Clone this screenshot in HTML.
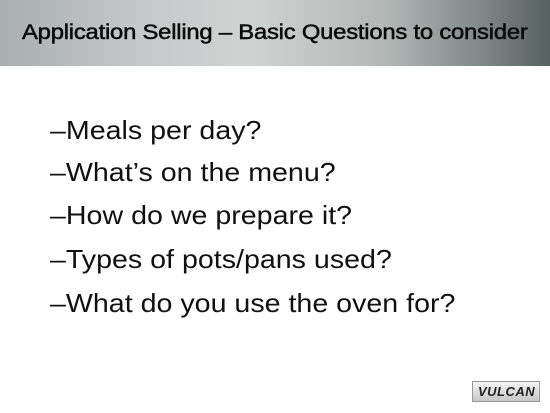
<!DOCTYPE html>
<html><head><meta charset="utf-8"><style>
html,body{margin:0;padding:0}
body{width:550px;height:413px;position:relative;background:#fff;overflow:hidden;font-family:"Liberation Sans",sans-serif}
#hdr{position:absolute;left:0;top:0;width:550px;height:66px;background:linear-gradient(90deg,#a9aeae 0%,#c4c8c8 25%,#cfd3d2 45%,#b3b8b7 70%,#7d8785 88%,#56625f 100%)}
#title{position:absolute;left:22px;top:21px;font-size:21px;color:#0a0a0a;white-space:nowrap;letter-spacing:-0.2px;-webkit-text-stroke:0.5px #0a0a0a;transform:scaleX(1.135);transform-origin:left center}
.b{position:absolute;left:50px;font-size:26px;color:#111;white-space:nowrap;transform:scaleX(1.1);transform-origin:left center}
#logo{position:absolute;left:472px;top:381px;width:68px;height:21px;border:1px solid #999;background:linear-gradient(#f4f4f4,#c8c8c8);box-sizing:border-box}
#logo span{position:absolute;left:5px;top:2px;font-size:13px;font-weight:bold;font-style:italic;color:#222;letter-spacing:0.5px}
</style></head><body>
<div id="hdr"></div>
<div id="title">Application Selling – Basic Questions to consider</div>
<div class="b" style="top:115px">–Meals per day?</div>
<div class="b" style="top:157px">–What’s on the menu?</div>
<div class="b" style="top:200px">–How do we prepare it?</div>
<div class="b" style="top:244px">–Types of pots/pans used?</div>
<div class="b" style="top:288px">–What do you use the oven for?</div>
<div id="logo"><span>VULCAN</span></div>
</body></html>
